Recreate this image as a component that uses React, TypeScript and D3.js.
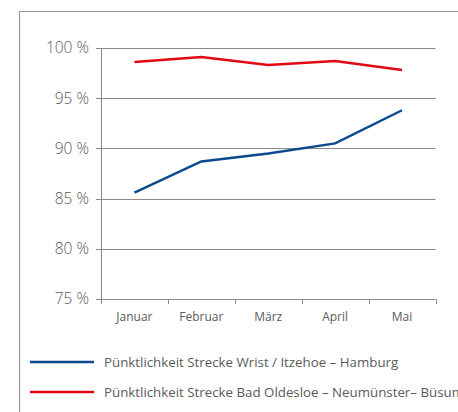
import React from "react";
import * as d3 from "d3";

const months = ["Januar", "Februar", "März", "April", "Mai"];
const wristItzehoe = [85.6, 88.7, 89.5, 90.5, 93.8];
const badOldesloe = [98.6, 99.1, 98.3, 98.7, 97.8];
const yTicks = [75, 80, 85, 90, 95, 100];
const seriesNames = [
  "Pünktlichkeit Strecke Wrist / Itzehoe – Hamburg",
  "Pünktlichkeit Strecke Bad Oldesloe – Neumünster– Büsum",
];
const colors = ["#0b4a8f", "#e30613"];

export default function App() {
  const W = 458, H = 412;
  const left = 101, right = 435.5, top = 48, bottom = 299;
  const x = d3.scaleBand().domain(months).range([left, right]).padding(0);
  const y = d3.scaleLinear().domain([75, 100]).range([bottom, top]);
  const line = d3
    .line<number>()
    .x((_, i) => (x(months[i]) as number) + x.bandwidth() / 2)
    .y((d) => y(d));
  const font = "'Open Sans', 'Noto Sans', sans-serif";
  const txt = "#5a5a5a";
  const grid = "#8a8a8a";
  const series = [wristItzehoe, badOldesloe];
  const bounds = [...months.map((m) => x(m) as number), right];
  return (
    <svg width={W} height={H} style={{ position: "absolute", left: 0, top: 0 }} fontFamily={font}>
      <rect width={W} height={H} fill="#fff" />
      <path d={`M19.5,${H} V11.5 H${W}`} fill="none" stroke="#999" strokeWidth={1.2} />
      {yTicks.map((t) => (
        <g key={t}>
          <line x1={left - 5} x2={right} y1={Math.round(y(t)) + 0.5} y2={Math.round(y(t)) + 0.5} stroke={grid} strokeWidth={1} />
          <text x={89} y={y(t)} dy="0.35em" textAnchor="end" fontSize={15.5} fill={txt} fontWeight={300}>
            {t} %
          </text>
        </g>
      ))}
      <line x1={left + 0.5} x2={left + 0.5} y1={top} y2={bottom + 0.5} stroke={grid} strokeWidth={1} />
      {bounds.map((b, i) => (
        <line key={i} x1={Math.round(b) + 0.5} x2={Math.round(b) + 0.5} y1={bottom} y2={bottom + 5} stroke={grid} strokeWidth={1} />
      ))}
      {months.map((m) => (
        <text key={m} x={(x(m) as number) + x.bandwidth() / 2} y={317} dy="0.35em" textAnchor="middle" fontSize={12} fill={txt}>
          {m}
        </text>
      ))}
      {series.map((s, i) => (
        <path key={i} d={line(s) || ""} fill="none" stroke={colors[i]} strokeWidth={2.5} />
      ))}
      {seriesNames.map((n, i) => (
        <g key={n}>
          <line x1={30} x2={94} y1={362 + i * 30} y2={362 + i * 30} stroke={colors[i]} strokeWidth={2.5} />
          <text x={104} y={362 + i * 30} dy="0.35em" fontSize={13.3} fill={txt}>
            {n}
          </text>
        </g>
      ))}
    </svg>
  );
}
